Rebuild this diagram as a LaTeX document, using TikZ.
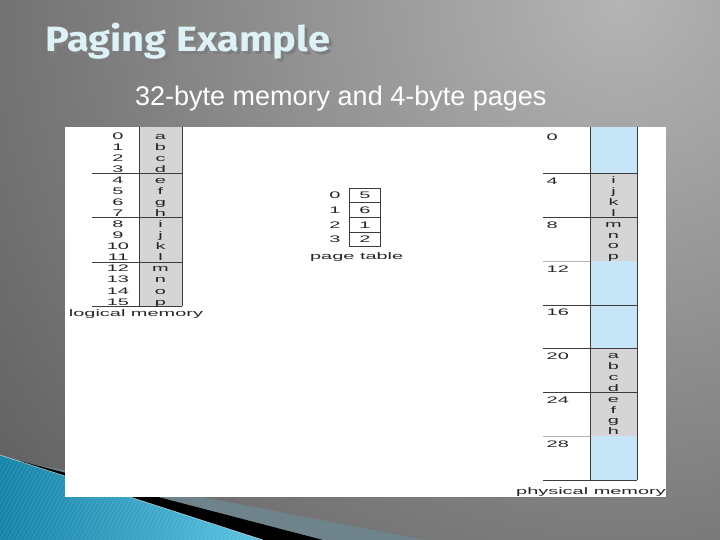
\documentclass[tikz,border=0pt]{standalone}
\usepackage{fontspec}
\setmainfont{Liberation Sans}
\newfontfamily\titlefont{Fira Sans}
\usepackage{graphicx}
\definecolor{bgdark}{HTML}{303030}
\definecolor{bglight}{HTML}{B4B4B4}
\definecolor{titlecyan}{HTML}{DDF2F6}
\definecolor{titleshadow}{HTML}{7E7E7E}
\definecolor{memblue}{HTML}{C6E6F8}
\definecolor{memgray}{HTML}{D5D5D5}
\definecolor{linegray}{HTML}{3C3C3C}
\definecolor{lightline}{HTML}{B4B4B4}
\definecolor{tealA}{HTML}{1683A8}
\definecolor{tealB}{HTML}{5CC3E2}
\definecolor{bandgray}{HTML}{6E838C}
\newcommand{\ft}[1]{\scalebox{2.1}[1]{\fontsize{9.5pt}{10pt}\selectfont #1}}
\newcommand{\titletext}{\titlefont\bfseries Paging Example}
\tikzset{
  tl/.style={inner sep=0pt, anchor=base, text=black!85},
  tlw/.style={inner sep=0pt, anchor=base west, text=black!85},
  grid/.style={draw=linegray, line width=0.9pt},
}
\begin{document}
\begin{tikzpicture}[x=1pt,y=-1pt]
\useasboundingbox (0,0) rectangle (720,540);
% background
\fill[bgdark] (0,0) rectangle (720,540);
\begin{scope}
  \clip (0,0) rectangle (720,540);
  \shade[inner color=bglight, outer color=bgdark] (620,0) circle (1250);
  % bottom-left swoosh
  \fill[bandgray] (16,461) -- (425,540) -- (16,540) -- cycle;
  \fill[black] (20,461) -- (323,540) -- (20,540) -- cycle;
  \shade[left color=tealA, right color=tealB] (0,455) -- (263,540) -- (0,540) -- cycle;
  \begin{scope}
    \clip (0,455) -- (263,540) -- (0,540) -- cycle;
    \foreach \i in {-80,-76,...,270}
      \draw[white, opacity=0.12, line width=0.6pt] (\i,540) -- ++(50,-90);
  \end{scope}
  \draw[white, opacity=0.6, line width=0.6pt] (0,455) -- (263,540);
\end{scope}
% title (with its drop shadow in the same node)
\node[inner sep=0pt, anchor=base west] (title) at (45,51.7)
  {\resizebox{285pt}{28.5pt}{\makebox[0pt][l]{\hspace{0.08em}\raisebox{-0.08em}{\textcolor{titleshadow}{\titletext}}}\textcolor{titlecyan}{\titletext}}};
\node[inner sep=0pt, anchor=base west, text=white, font=\fontsize{27pt}{30pt}\selectfont] (subtitle) at (135,106)
  {32-byte memory and 4-byte pages};
% white figure area
\fill[white] (65,127) rectangle (666,497);

% ---------- logical memory ----------
\fill[memgray] (139,127.5) rectangle (182,306.3);
\foreach \k in {1,2,3,4}
  \draw[grid] (92,129.5+44.2*\k) -- (182,129.5+44.2*\k);
\draw[grid] (139,127.5) -- (139,306.3);
\draw[grid] (182,127.5) -- (182,306.3);
\foreach \n/\l [count=\k from 0] in {0/a,1/b,2/c,3/d,4/e,5/f,6/g,7/h,8/i,9/j,10/k,11/l,12/m,13/n,14/o,15/p}{
  \node[tl] (ln\k) at (118,129.5+11.05*\k+9.8) {\ft{\n}};
  \node[tl] (ll\k) at (160.5,129.5+11.05*\k+9.8) {\ft{\l}};
}
\node[tl] (logical) at (136,316.5) {\ft{logical memory}};

% ---------- page table ----------
\draw[grid] (349.3,188.3) rectangle (380.7,246.7);
\foreach \k in {1,2,3}
  \draw[grid] (349.3,188.3+14.6*\k) -- (380.7,188.3+14.6*\k);
\foreach \p/\f [count=\k from 0] in {0/5,1/6,2/1,3/2}{
  \node[tl] (pp\k) at (335,188.3+14.6*\k+10.7) {\ft{\p}};
  \node[tl] (pf\k) at (365,188.3+14.6*\k+10.7) {\ft{\f}};
}
\node[tl] (pagetable) at (356.7,259.3) {\ft{page table}};

% ---------- physical memory ----------
\foreach \i/\c in {0/memblue,1/memgray,2/memgray,3/memblue,4/memblue,5/memgray,6/memgray,7/memblue}
  \fill[\c] (590,130+43.75*\i) rectangle (637,130+43.75*\i+43.75);
\fill[memblue] (590,127.5) rectangle (637,130);
\foreach \i in {1,2,4,5,6,8}
  \draw[grid] (543,130+43.75*\i) -- (637,130+43.75*\i);
\foreach \i in {3,7}
  \draw[draw=lightline, line width=0.9pt] (543,130+43.75*\i) -- (590,130+43.75*\i);
\draw[grid] (590,127.5) -- (590,480);
\draw[grid] (637,127.5) -- (637,480);
\foreach \a [count=\i from 0] in {0,4,8,12,16,20,24,28}
  \node[tlw] (pa\i) at (546.5,130+43.75*\i+10.8) {\ft{\a}};
\foreach \l [count=\j from 0] in {i,j,k,l}
  \node[tl] (f1\j) at (613.5,130+43.75+9.6+10.94*\j) {\ft{\l}};
\foreach \l [count=\j from 0] in {m,n,o,p}
  \node[tl] (f2\j) at (613.5,130+87.5+9.6+10.94*\j) {\ft{\l}};
\foreach \l [count=\j from 0] in {a,b,c,d}
  \node[tl] (f5\j) at (613.5,130+218.75+9.6+10.94*\j) {\ft{\l}};
\foreach \l [count=\j from 0] in {e,f,g,h}
  \node[tl] (f6\j) at (613.5,130+262.5+9.6+10.94*\j) {\ft{\l}};
\node[tl] (physical) at (591,494.3) {\ft{physical memory}};
\end{tikzpicture}
\end{document}
